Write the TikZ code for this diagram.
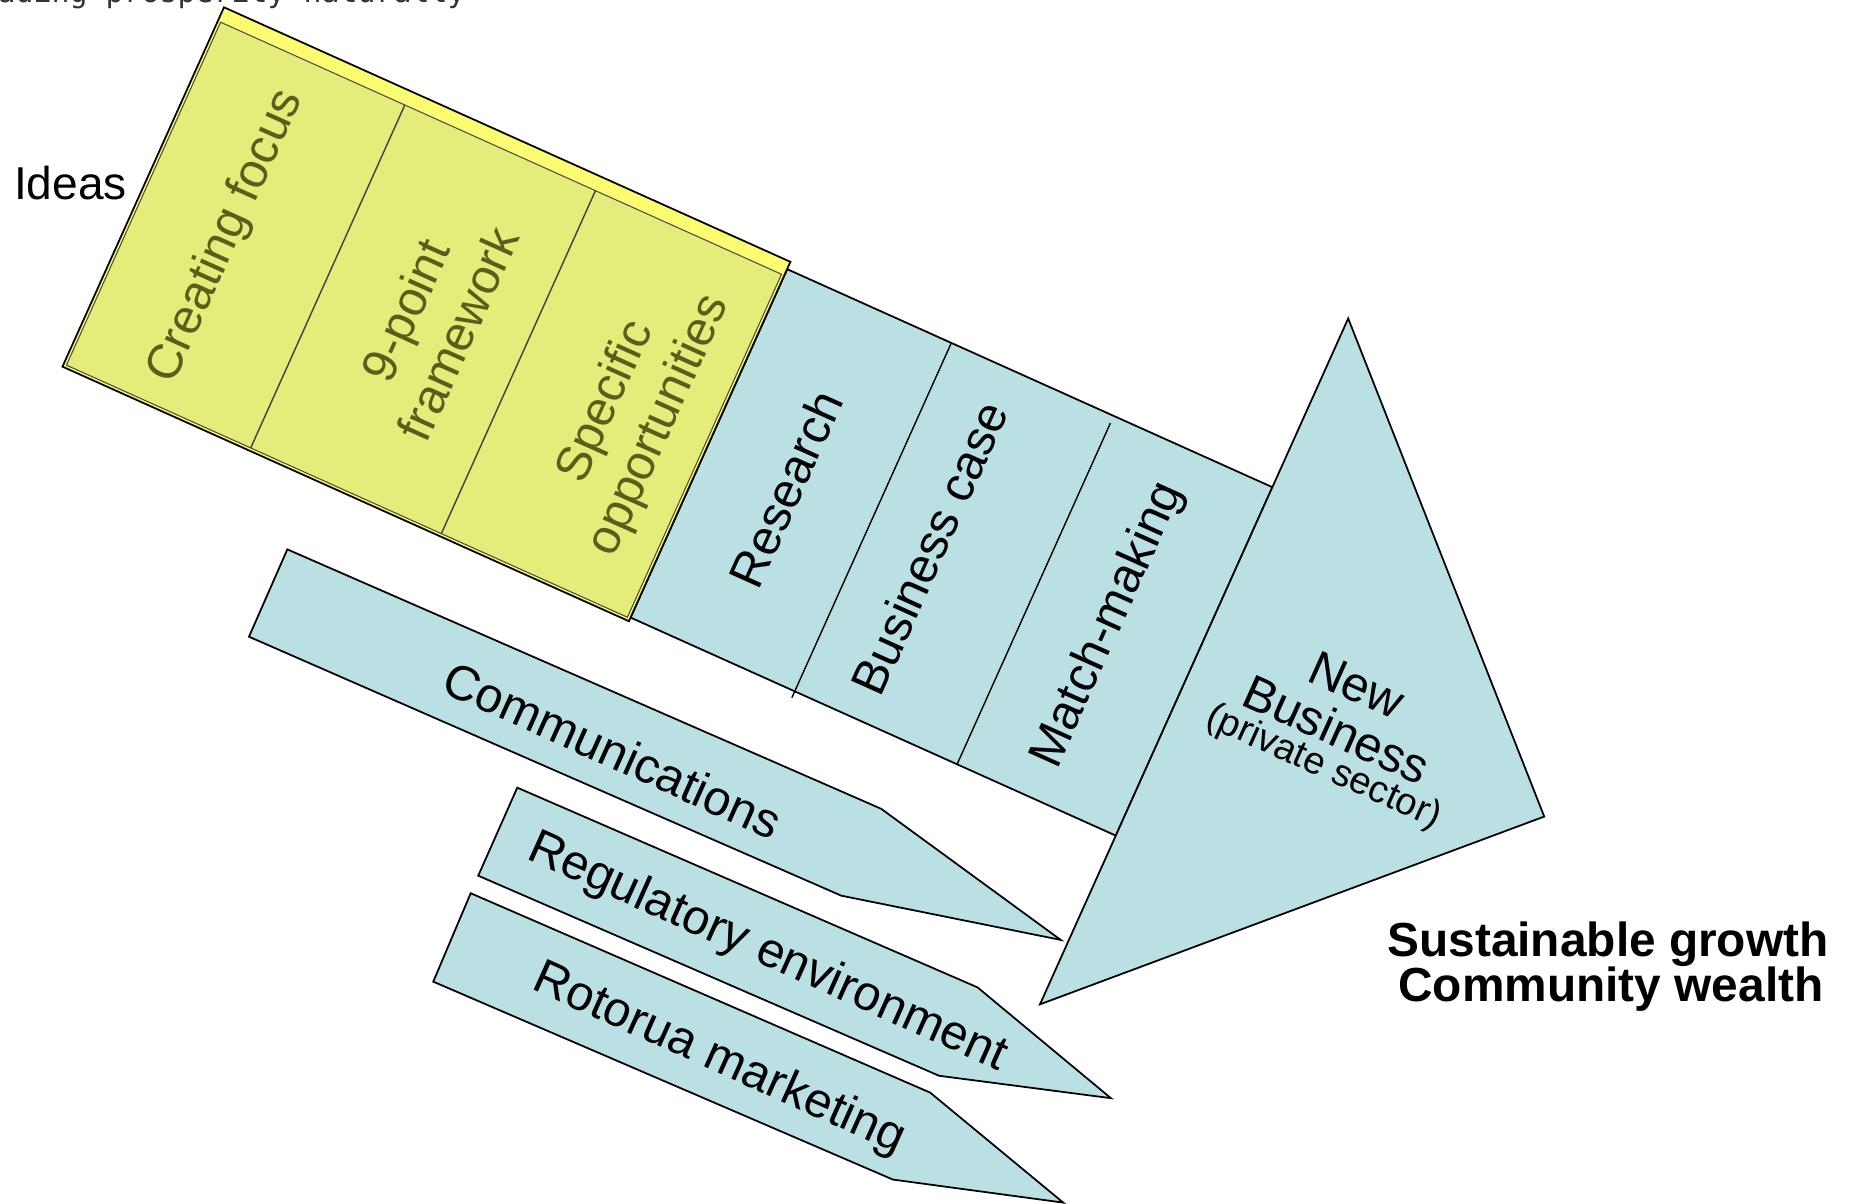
\documentclass[tikz,border=0pt]{standalone}
\usepackage{fontspec}
\setmainfont{Liberation Sans}
\newfontfamily\titlemono{DejaVu Sans Mono}
\usepackage{tikz}
\definecolor{flowblue}{RGB}{187,224,228}
\definecolor{ideayellow}{RGB}{252,252,112}
\definecolor{ideamix}{RGB}{228,236,122}
\definecolor{ideaink}{RGB}{92,92,28}

\begin{document}
\begin{tikzpicture}[x=0.01cm,y=-0.01cm,
		bluepart/.style={fill=flowblue,draw=black,line width=0.5pt,line join=miter},
		divider/.style={draw=black,line width=0.4pt},
		steptext/.style={inner sep=0pt,align=center,font=\fontsize{13.9}{16.5}\selectfont}]
		\useasboundingbox (0,0) rectangle (1850,1204);
		% cut-off heading
		\node[anchor=base west,inner sep=0pt,font=\titlemono\fontsize{8.5}{10}\selectfont,black!80] (heading) at (-3,3) {ading prosperity naturally};
		\node[anchor=base,inner sep=0pt,font=\fontsize{13.1}{15}\selectfont] (ideas) at (70.5,199.3) {Ideas};
		% main arrow
		\begin{scope}[shift={(224,7.3)},rotate=-24.2,transform shape]
			\draw[bluepart] (621,8) rectangle (1153,390);
			\draw[bluepart] (1153,-177) -- (1536,197) -- (1153,575) -- cycle;
			\draw[divider] (801,8) -- (801,397);
			\draw[divider] (979,16) -- (979,390);
			% idea block
			\draw[fill=ideayellow,draw=black,line width=0.5pt] (0,0) rectangle (621,394);
			\draw[fill=ideamix,draw=black!70,line width=0.3pt] (3,15) rectangle (618,391);
			\foreach \s in {205,414}
			{\draw[divider,black!75] (\s,15)--(\s,391);}
			\node[steptext,text=ideaink,rotate=90] (focus) at (96,208) {Creating focus};
			\node[steptext,text=ideaink,rotate=90] (ninepoint) at (318,202) {9-point\\framework};
			\node[steptext,text=ideaink,rotate=90] (specific) at (540,203) {Specific\\opportunities};
			% steps
			\node[steptext,rotate=90] (research) at (710,209) {Research};
			\node[steptext,rotate=90] (bizcase) at (865,204) {Business case};
			\node[steptext,rotate=90] (matching) at (1060,201) {Match-making};
			\node[steptext] (new) at (1311,154) {New};
			\node[steptext] (business) at (1311,202) {Business};
			\node[steptext,font=\fontsize{10.8}{12}\selectfont] (private) at (1315,243) {(private sector)};
			% side arrows
			\draw[bluepart] (280,468.5) -- (928,461.7) -- (1145.5,507.7) -- (927.3,557.3) -- (280.8,563.9) -- cycle;
			\draw[bluepart] (587.4,591.6) -- (1089.1,585.1) -- (1256.2,631.5) -- (1090.2,681.5) -- (587.9,687.9) -- cycle;
			\draw[bluepart] (588.2,707) -- (1089.1,700.5) -- (1255.5,746.3) -- (1090.7,795.1) -- (590.3,803) -- cycle;
			\node[steptext] (comms) at (659,518) {Communications};
			\node[steptext] (regulatory) at (883,640) {Regulatory environment};
			\node[steptext] (marketing) at (883,757) {Rotorua marketing};
		\end{scope}
		% outcome
		\node[anchor=base,inner sep=0pt,font=\bfseries\fontsize{13.6}{15}\selectfont] (growth) at (1608,957) {Sustainable growth};
		\node[anchor=base,inner sep=0pt,font=\bfseries\fontsize{13.6}{15}\selectfont] (wealth) at (1611,1002) {Community wealth};
	\end{tikzpicture}
\end{document}
